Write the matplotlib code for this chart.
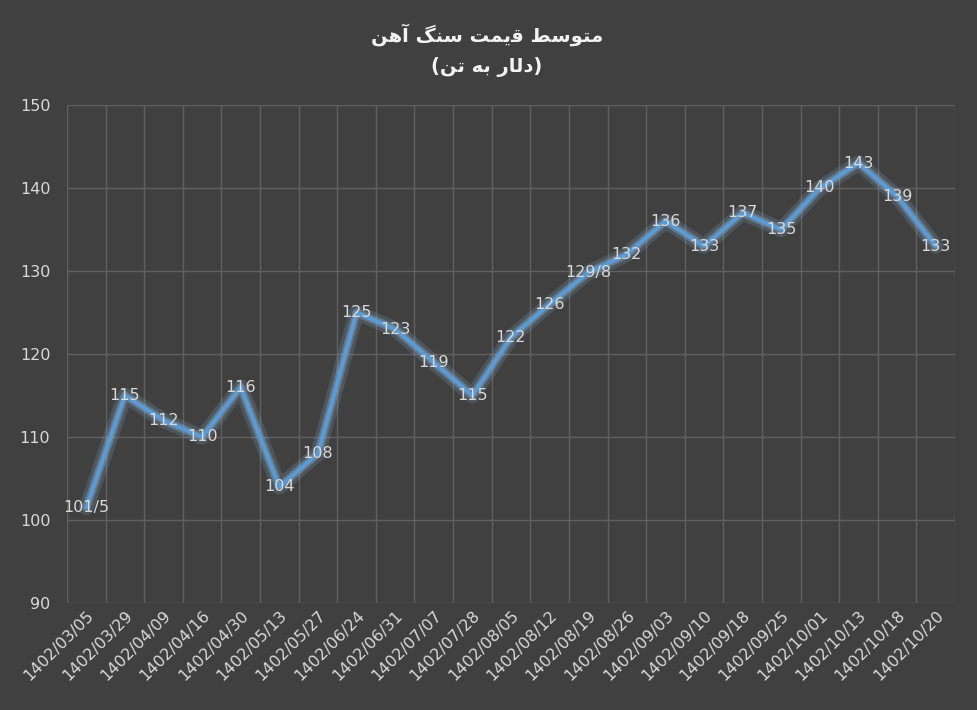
import matplotlib
matplotlib.use("Agg")
import matplotlib.pyplot as plt
import matplotlib.patheffects as pe

dates = ["1402/03/05","1402/03/29","1402/04/09","1402/04/16","1402/04/30","1402/05/13",
         "1402/05/27","1402/06/24","1402/06/31","1402/07/07","1402/07/28","1402/08/05",
         "1402/08/12","1402/08/19","1402/08/26","1402/09/03","1402/09/10","1402/09/18",
         "1402/09/25","1402/10/01","1402/10/13","1402/10/18","1402/10/20"]
values = [101.5,115,112,110,116,104,108,125,123,119,115,122,126,129.8,132,136,133,137,135,140,143,139,133]
labels = ["101/5","115","112","110","116","104","108","125","123","119","115","122","126",
          "129/8","132","136","133","137","135","140","143","139","133"]

# Arabic-script title in presentation forms, visual order
w1 = "\uFEE3\uFE98\uFEEE\uFEB3\uFEC2"   # متوسط
w2 = "\uFED7\uFBFE\uFEE4\uFE96"         # قیمت
w3 = "\uFEB3\uFEE8\uFB93"               # سنگ
w4 = "\uFE81\uFEEB\uFEE6"               # آهن
title1 = " ".join(w[::-1] for w in [w4, w3, w2, w1])
v1 = "\uFEA9\uFEDF\uFE8E\uFEAD"         # دلار
v2 = "\uFE91\uFEEA"                     # به
v3 = "\uFE97\uFEE6"                     # تن
title2 = "(" + " ".join(w[::-1] for w in [v3, v2, v1]) + ")"

bg = "#404040"
fig = plt.figure(figsize=(9.77, 7.10), dpi=100, facecolor=bg)
ax = fig.add_axes([67/977, 1-603/710, (955-67)/977, (603-105)/710], facecolor=bg)
x = list(range(len(values)))
ax.plot(x, values, color="#5B9BD5", lw=3, solid_capstyle="round",
        path_effects=[pe.Stroke(linewidth=11, foreground="#8fbce6", alpha=0.18),
                      pe.Stroke(linewidth=6, foreground="#9cc3e8", alpha=0.3), pe.Normal()])
for xi, v, l in zip(x, values, labels):
    ax.text(xi, v, l, ha="center", va="center", color="#d9d9d9", fontsize=11.5)
ax.set_xlim(-0.5, len(values)-0.5)
ax.set_ylim(90, 150)
ax.set_yticks(range(90, 151, 10))
ax.set_xticks(x)
ax.set_xticklabels(dates, rotation=45, ha="right", rotation_mode="anchor")
ax.set_xticks([i-0.5 for i in range(len(values)+1)], minor=True)
ax.grid(True, which="minor", axis="x", color="#606060", lw=1)
ax.grid(True, which="major", axis="y", color="#606060", lw=1)
ax.tick_params(axis="both", which="both", length=0, colors="#d9d9d9", labelsize=11.5)
ax.tick_params(axis="y", pad=12)
for s in ax.spines.values():
    s.set_visible(False)
fig.text(487/977, 1-35/710, title1, ha="center", va="center", color="#f2f2f2",
         fontsize=14, fontweight="bold", family=["DejaVu Sans"])
fig.text(487/977, 1-67/710, title2, ha="center", va="center", color="#f2f2f2",
         fontsize=14, fontweight="bold", family=["DejaVu Sans"])
fig.savefig("out.png", dpi=100, facecolor=bg)
